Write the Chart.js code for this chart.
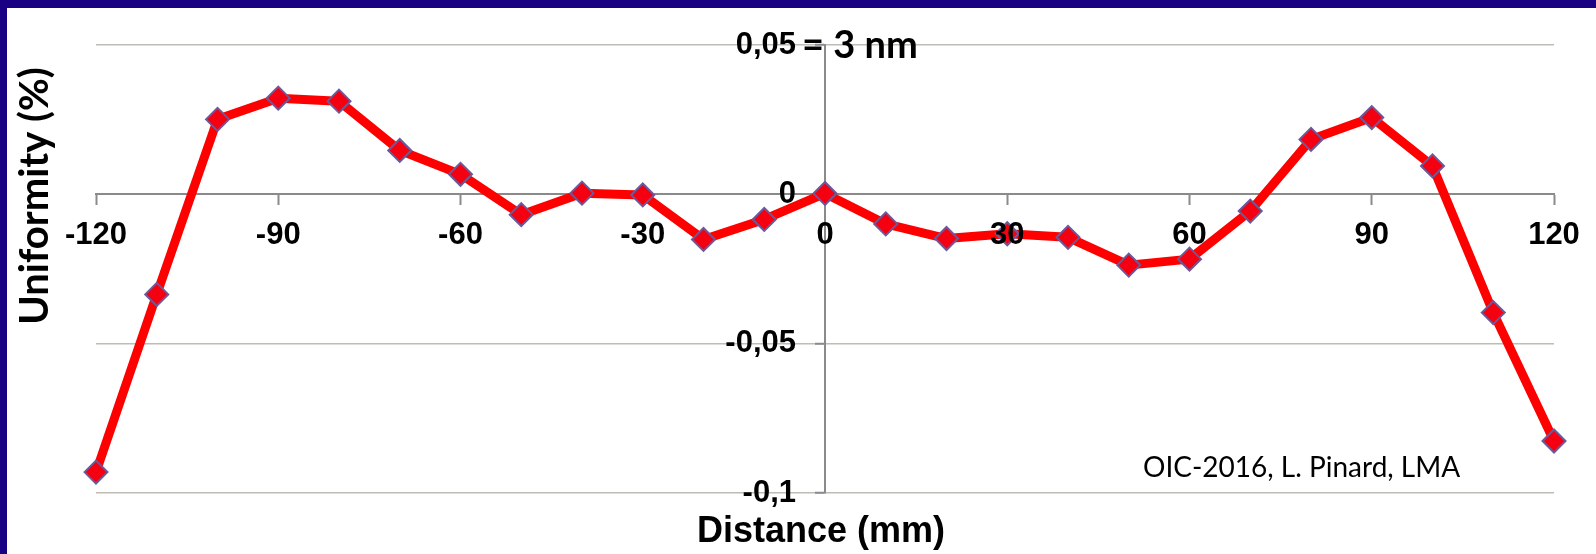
<!DOCTYPE html>
<html>
<head>
<meta charset="utf-8">
<script src="https://cdn.jsdelivr.net/npm/chart.js@4"></script>
<style>
  html, body { margin: 0; padding: 0; width: 1596px; height: 554px; overflow: hidden; background: #1a0082; }
  #frame { position: absolute; left: 7px; top: 8px; width: 1589px; height: 546px; background: #ffffff; }
  canvas { display: block; }
</style>
</head>
<body>
<div id="frame"><canvas id="chart" width="1589" height="546"></canvas></div>
<script>
// Thickness uniformity profile across the coated surface
const distances = [-120, -110, -100, -90, -80, -70, -60, -50, -40, -30, -20, -10, 0,
                   10, 20, 30, 40, 50, 60, 70, 80, 90, 100, 110, 120];
const uniformity = [-0.0930, -0.0335, 0.0251, 0.0322, 0.0312, 0.0147, 0.0067, -0.0068, 0.0004, -0.0002, -0.0151, -0.0084, 0.0003,
                    -0.0099, -0.0148, -0.0132, -0.0144, -0.0237, -0.0217, -0.0056, 0.0184, 0.0257, 0.0095, -0.0396, -0.0826];

const xRange = [-120, 120];
const xStep = 30;
const yRange = [-0.1, 0.05];
const yStep = 0.05;

const xTitle = 'Distance (mm)';
const yTitle = 'Uniformity (%)';
const scaleNote = '= 3 nm';
const credit = 'OIC-2016, L. Pinard, LMA';

const tickFont = { family: '"Liberation Sans", Arial, sans-serif', weight: 'bold', size: 31 };

// Comma as the decimal separator on the value axis
const formatValue = v => String(Number(v.toFixed(2))).replace('.', ',');

const textPlugin = {
  id: 'chartTexts',
  afterDraw(chart) {
    const { ctx, chartArea, scales } = chart;
    const x0 = scales.x.getPixelForValue(0);
    ctx.save();
    ctx.fillStyle = '#000';

    // value-axis labels, set off to the left of the centred axis line
    ctx.font = `bold ${tickFont.size}px ${tickFont.family}`;
    ctx.textAlign = 'right';
    ctx.textBaseline = 'middle';
    scales.y.ticks.forEach(t => {
      ctx.fillText(formatValue(t.value), x0 - 29, scales.y.getPixelForValue(t.value));
    });

    // note next to the top value tick
    ctx.font = 'bold 38px Lato, sans-serif';
    ctx.textAlign = 'left';
    ctx.textBaseline = 'alphabetic';
    ctx.fillText(scaleNote, x0 - 23, 50);

    // x axis title
    ctx.font = 'bold 36px "Liberation Sans", Arial, sans-serif';
    ctx.textAlign = 'center';
    ctx.fillText(xTitle, (chartArea.left + chartArea.right) / 2 - 4, 534);

    // y axis title (rotated)
    ctx.save();
    ctx.translate(41, 188);
    ctx.rotate(-Math.PI / 2);
    ctx.font = 'bold 40px Lato, sans-serif';
    ctx.textAlign = 'center';
    ctx.fillText(yTitle, 0, 0);
    ctx.restore();

    // source credit
    ctx.font = '28px Lato, sans-serif';
    ctx.textAlign = 'left';
    ctx.fillText(credit, 1136, 469);

    ctx.restore();
  }
};

function build() {
  new Chart(document.getElementById('chart'), {
    type: 'line',
    data: {
      datasets: [{
        data: distances.map((d, i) => ({ x: d, y: uniformity[i] })),
        borderColor: '#ff0000',
        borderWidth: 9,
        borderJoinStyle: 'round',
        tension: 0,
        pointStyle: 'rectRot',
        pointRadius: 11.5,
        pointBackgroundColor: '#f50010',
        pointBorderColor: '#6a5a9c',
        pointBorderWidth: 2,
        clip: false
      }]
    },
    options: {
      responsive: false,
      animation: false,
      events: [],
      layout: { padding: { left: 89, right: 42, top: 37, bottom: 61 } },
      plugins: { legend: { display: false }, tooltip: { enabled: false } },
      scales: {
        x: {
          type: 'linear',
          min: xRange[0], max: xRange[1],
          position: { y: 0 },
          ticks: {
            stepSize: xStep, autoSkip: false, maxRotation: 0,
            font: tickFont, color: '#000', padding: 13, z: 1,
            callback: v => String(v)
          },
          grid: { drawOnChartArea: false, drawTicks: true, tickLength: 10, tickColor: '#8a8a8a', tickWidth: 2 },
          border: { display: true, color: '#8a8a8a', width: 2 }
        },
        y: {
          type: 'linear',
          min: yRange[0], max: yRange[1],
          position: { x: 0 },
          ticks: { stepSize: yStep, display: false },
          grid: {
            color: c => (c.tick && Math.abs(c.tick.value) < 1e-9) ? '#8a8a8a' : '#bdbdb3',
            lineWidth: c => (c.tick && Math.abs(c.tick.value) < 1e-9) ? 2 : 1.5,
            drawTicks: true, tickLength: 9, tickColor: '#8a8a8a', tickWidth: 2
          },
          border: { display: true, color: '#8a8a8a', width: 2 }
        }
      }
    },
    plugins: [textPlugin]
  });
}

Promise.all([
  document.fonts.load('bold 38px Lato'),
  document.fonts.load('28px Lato'),
  document.fonts.load('bold 31px "Liberation Sans"')
]).then(build, build);
</script>
</body>
</html>
